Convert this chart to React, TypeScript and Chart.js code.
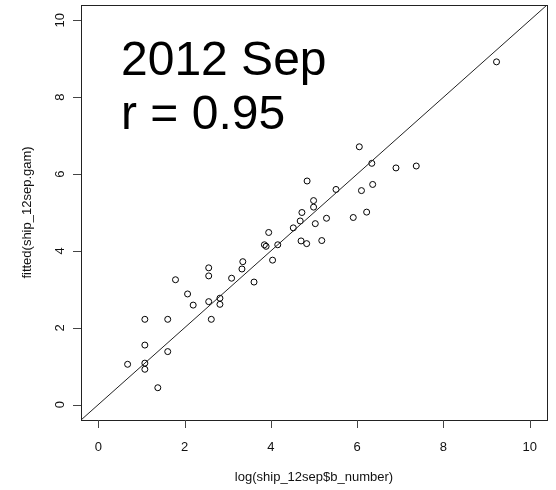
import React, { useEffect, useRef } from "react";
import { Chart, registerables } from "chart.js";

Chart.register(...registerables);

const xValues = [0.68, 1.08, 1.08, 1.08, 1.08, 1.38, 1.61, 1.61, 1.79, 2.07, 2.2, 2.56, 2.56, 2.56, 2.62, 2.82, 2.82, 3.09, 3.33, 3.35, 3.61, 3.85, 3.89, 3.95, 4.04, 4.16, 4.52, 4.68, 4.72, 4.7, 4.83, 4.84, 4.99, 4.99, 5.03, 5.18, 5.29, 5.51, 5.91, 6.05, 6.1, 6.22, 6.34, 6.36, 6.9, 7.37, 9.23];
const yValues = [1.05, 2.22, 1.55, 1.08, 0.92, 0.44, 2.22, 1.38, 3.25, 2.88, 2.59, 3.56, 3.35, 2.68, 2.22, 2.77, 2.61, 3.29, 3.53, 3.72, 3.19, 4.16, 4.12, 4.48, 3.76, 4.16, 4.6, 4.78, 5.0, 4.26, 4.19, 5.82, 5.31, 5.14, 4.71, 4.27, 4.85, 5.6, 4.87, 6.71, 5.57, 5.01, 6.28, 5.73, 6.16, 6.21, 8.92];
const tickValues = [0, 2, 4, 6, 8, 10];
const axisMin = -0.4;
const axisMax = 10.4;
const xTitle = "log(ship_12sep$b_number)";
const yTitle = "fitted(ship_12sep.gam)";
const annotationLines = ["2012 Sep", "r = 0.95"];

const FONT = '"Liberation Sans", Arial, sans-serif';

const rPlotPlugin = {
  id: "rPlot",
  afterDraw(chart: any) {
    const ctx = chart.ctx;
    const { left, right, top, bottom } = chart.chartArea;
    const xs = chart.scales.x;
    const ys = chart.scales.y;
    ctx.save();
    // box
    ctx.strokeStyle = "#222";
    ctx.lineWidth = 1;
    ctx.strokeRect(Math.round(left) + 0.5, Math.round(top) + 0.5, Math.round(right - left), Math.round(bottom - top));
    // ticks
    ctx.strokeStyle = "#444";
    ctx.fillStyle = "#111";
    ctx.font = "13px " + FONT;
    for (const v of tickValues) {
      const px = Math.round(xs.getPixelForValue(v)) + 0.5;
      ctx.beginPath();
      ctx.moveTo(px, bottom);
      ctx.lineTo(px, bottom + 8);
      ctx.stroke();
      ctx.textAlign = "center";
      ctx.textBaseline = "middle";
      ctx.fillText(String(v), xs.getPixelForValue(v), bottom + 27);

      const py = Math.round(ys.getPixelForValue(v)) + 0.5;
      ctx.beginPath();
      ctx.moveTo(left, py);
      ctx.lineTo(left - 8, py);
      ctx.stroke();
      ctx.save();
      ctx.translate(left - 21, ys.getPixelForValue(v));
      ctx.rotate(-Math.PI / 2);
      ctx.textAlign = "center";
      ctx.textBaseline = "middle";
      ctx.fillText(String(v), 0, 0);
      ctx.restore();
    }
    // axis titles
    ctx.textAlign = "center";
    ctx.textBaseline = "middle";
    ctx.fillText(xTitle, (left + right) / 2, bottom + 57);
    ctx.save();
    ctx.translate(left - 54, (top + bottom) / 2);
    ctx.rotate(-Math.PI / 2);
    ctx.fillText(yTitle, 0, 0);
    ctx.restore();
    // annotation
    ctx.fillStyle = "#000";
    ctx.font = "48px " + FONT;
    ctx.textAlign = "left";
    ctx.textBaseline = "alphabetic";
    annotationLines.forEach((t, i) => {
      ctx.fillText(t, left + 40, top + 70 + i * 54);
    });
    ctx.restore();
  },
};

export default function App() {
  const ref = useRef<HTMLCanvasElement | null>(null);
  useEffect(() => {
    if (!ref.current) return;
    const points = xValues.map((x, i) => ({ x, y: yValues[i] }));
    const chart = new Chart(ref.current, {
      type: "scatter",
      data: {
        datasets: [
          {
            type: "line",
            data: [
              { x: axisMin, y: axisMin },
              { x: axisMax, y: axisMax },
            ],
            borderColor: "#222",
            borderWidth: 1,
            pointRadius: 0,
            fill: false,
          } as any,
          {
            data: points,
            pointStyle: "circle",
            pointRadius: 3,
            pointBorderWidth: 1,
            pointBorderColor: "#000",
            pointBackgroundColor: "rgba(0,0,0,0)",
            borderColor: "#000",
            backgroundColor: "rgba(0,0,0,0)",
          },
        ],
      },
      options: {
        responsive: false,
        animation: false,
        layout: { padding: { left: 81, right: 9, top: 4, bottom: 70 } },
        plugins: { legend: { display: false }, tooltip: { enabled: false } },
        scales: {
          x: { type: "linear", min: axisMin, max: axisMax, display: false },
          y: { type: "linear", min: axisMin, max: axisMax, display: false },
        },
      },
      plugins: [rPlotPlugin],
    });
    return () => chart.destroy();
  }, []);
  return (
    <div style={{ position: "fixed", left: 0, top: 0, width: 556, height: 490, background: "#fff" }}>
      <canvas ref={ref} width={556} height={490} />
    </div>
  );
}
